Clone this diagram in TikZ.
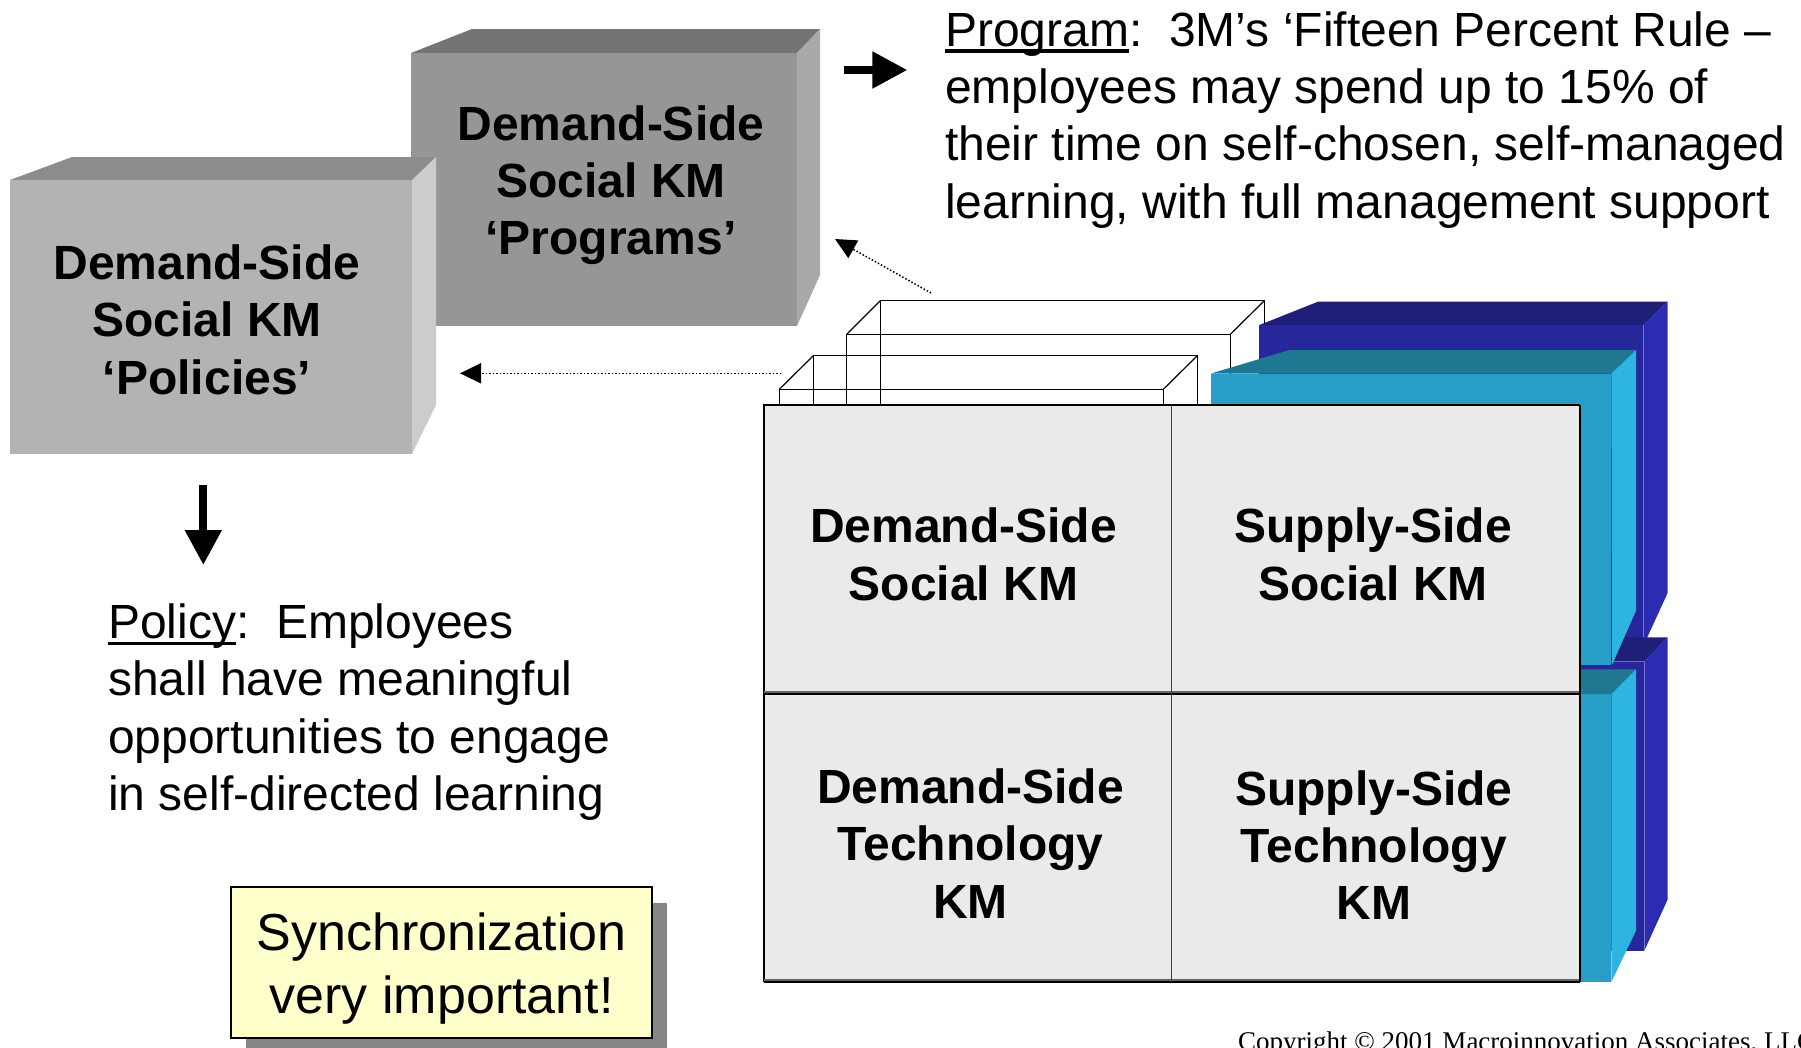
\documentclass[tikz,border=0pt]{standalone}
\usepackage{fontspec}
\setmainfont{Liberation Sans}
\newfontfamily\timesfont{Liberation Serif}
\usetikzlibrary{arrows.meta}

\definecolor{polFront}{HTML}{B3B3B3}
\definecolor{polTop}{HTML}{8C8C8C}
\definecolor{polSide}{HTML}{CCCCCC}
\definecolor{proFront}{HTML}{969696}
\definecolor{proTop}{HTML}{747474}
\definecolor{proSide}{HTML}{A9A9A9}
\definecolor{dbFront}{HTML}{27279B}
\definecolor{dbTop}{HTML}{1F1F77}
\definecolor{dbSide}{HTML}{2C2CB2}
\definecolor{cyFront}{HTML}{279DC7}
\definecolor{cyTop}{HTML}{1F7892}
\definecolor{cySide}{HTML}{2DB4E1}
\definecolor{cellFill}{HTML}{EAEAEA}
\definecolor{syncFill}{HTML}{FFFFCC}
\definecolor{syncShadow}{HTML}{868686}

\newcommand\myul[1]{\setbox0\hbox{#1}\rlap{\rule[-6.8pt]{\wd0}{3.5pt}}#1}
\newcommand\mytab[2]{\begin{tabular}[t]{@{}#1@{}}#2\end{tabular}}

\tikzset{
  boxtxt/.style={font=\fontsize{48}{57.4}\selectfont\bfseries, anchor=base, inner sep=0pt},
  bodytxt/.style={font=\fontsize{48}{57.4}\selectfont, anchor=base west, inner sep=0pt},
  wire/.style={draw=black, line width=1.2pt},
  cell/.style={draw=black, line width=1.2pt, fill=cellFill, minimum width=407.8pt, minimum height=288.3pt, inner sep=0pt, outer sep=0pt},
  dotarrow/.style={dotted, line width=1.5pt, -{Triangle[length=21pt,width=20pt]}},
  bigarrow/.style={line width=8pt, -{Triangle[length=35pt,width=35pt]}},
}

\begin{document}
\begin{tikzpicture}[x=1pt,y=-1pt]
\useasboundingbox (0,0) rectangle (1801,1047);
\fill[white] (0,0) rectangle (1801,1047);

% ---- Programs box (back)
\fill[proTop] (411,53) -- (472,29) -- (820,29) -- (797,53) -- cycle;
\fill[proSide] (797,53) -- (820,29) -- (820,275) -- (797,326) -- cycle;
\fill[proFront] (411,53) rectangle (797,326);
\node[boxtxt] (progBox) at (611,140) {\mytab{c}{Demand-Side\\Social KM\\‘Programs’}};

% ---- Policies box (front)
\fill[polTop] (10,180) -- (72,157) -- (436,157) -- (412,180) -- cycle;
\fill[polSide] (412,180) -- (436,157) -- (436,405) -- (412,454) -- cycle;
\fill[polFront] (10,180) rectangle (412,454);
\node[boxtxt] (polBox) at (207,279.3) {\mytab{c}{Demand-Side\\Social KM\\‘Policies’}};

% ---- wire-frame boxes
\draw[wire] (846.7,405) -- (846.7,334.3) -- (1230.3,334.3) -- (1230.3,405);
\draw[wire] (880.3,405) -- (880.3,300.7) -- (1264.3,300.7) -- (1264.3,405);
\draw[wire] (846.7,334.3) -- (880.3,300.7);
\draw[wire] (1230.3,334.3) -- (1264.3,300.7);
\draw[wire] (779.3,405) -- (779.3,389.3) -- (1163.3,389.3) -- (1163.3,405);
\draw[wire] (813.3,405) -- (813.3,355.7) -- (1197.3,355.7) -- (1197.3,405);
\draw[wire] (779.3,389.3) -- (813.3,355.7);
\draw[wire] (1163.3,389.3) -- (1197.3,355.7);

% ---- dark blue boxes
\fill[dbFront] (1259.4,325) rectangle (1643.3,646);
\fill[dbTop] (1259.4,325) -- (1318,301.7) -- (1667.7,301.7) -- (1643.3,325) -- cycle;
\fill[dbSide] (1643.3,325) -- (1667.7,301.7) -- (1667.7,592.7) -- (1643.3,646) -- cycle;
\fill[dbFront] (1259.4,661.7) rectangle (1644.3,950.7);
\fill[dbTop] (1259.4,661.7) -- (1318,637.3) -- (1667.7,637.3) -- (1644.3,661.7) -- cycle;
\fill[dbSide] (1644.3,661.7) -- (1667.7,637.3) -- (1667.7,899.3) -- (1644.3,950.7) -- cycle;

% ---- cyan boxes
\fill[cyFront] (1211,373.5) rectangle (1611.3,665);
\fill[cyTop] (1211,373.5) -- (1289.5,350) -- (1636,350) -- (1611.3,373.5) -- cycle;
\fill[cySide] (1611.3,373.5) -- (1636,350) -- (1636,610.7) -- (1612,665) -- cycle;
\fill[cyFront] (1211,694) rectangle (1611.3,982);
\fill[cyTop] (1211,694) -- (1289.5,669.3) -- (1636,669.3) -- (1611.3,694) -- cycle;
\fill[cySide] (1611.3,694) -- (1636,669.3) -- (1636,930.7) -- (1611.3,982) -- cycle;

% ---- grid
\node[cell, anchor=north west] (c11) at (764,405) {};
\node[cell, anchor=north west] (c12) at (1171.8,405) {};
\node[cell, anchor=north west] (c21) at (764,693.3) {};
\node[cell, anchor=north west] (c22) at (1171.8,693.3) {};
\draw[line width=2pt, black!60] (764,691.5) -- (1580,691.5);
\draw[line width=2pt] (764,693.8) -- (1580,693.8);
\draw[line width=2pt, black!60] (764,979.5) -- (1580,979.5);
\draw[line width=2pt] (764,981.8) -- (1580,981.8);
\draw[line width=1.6pt] (1580,405) -- (1580,982);
\draw[line width=1pt, black!75] (1171.8,405) -- (1171.8,982);

\node[boxtxt] (t11) at (963.5,542.7) {\mytab{c}{Demand-Side\\Social KM}};
\node[boxtxt] (t12) at (1373,542.7) {\mytab{c}{Supply-Side\\Social KM}};
\node[boxtxt] (t21) at (970.6,803.3) {\mytab{c}{Demand-Side\\Technology\\KM}};
\node[boxtxt] (t22) at (1373.8,805) {\mytab{c}{Supply-Side\\Technology\\KM}};

% ---- dotted arrows
\coordinate (dotA1) at (781,373.3);
\coordinate (dotA2) at (460,373.3);
\draw[dotarrow] (dotA1) -- (dotA2);
\coordinate (dotB1) at (931,293);
\coordinate (dotB2) at (835,239);
\draw[dotarrow] (dotB1) -- (dotB2);

% ---- solid arrows
\coordinate (rA1) at (844,70);
\coordinate (rA2) at (907.4,70);
\draw[bigarrow] (rA1) -- (rA2);
\coordinate (dA1) at (203.3,485);
\coordinate (dA2) at (203.3,565);
\draw[bigarrow] (dA1) -- (dA2);

% ---- texts
\node[bodytxt] (progTxt) at (945,46) {\mytab{l}{\myul{Program}:\ \ 3M’s ‘Fifteen Percent Rule –\\employees may spend up to 15\% of\\their time on self-chosen, self-managed\\learning, with full management support}};
\node[bodytxt] (polTxt) at (108,638.5) {\mytab{l}{\myul{Policy}:\ \ Employees\\shall have meaningful\\opportunities to engage\\in self-directed learning}};

% ---- synchronization box
\fill[syncShadow] (246,902.7) rectangle (667.4,1050);
\node[draw=black, line width=2pt, fill=syncFill, minimum width=421.4pt, minimum height=150.4pt, inner sep=0pt] (sync) at (441.7,962.5) {};
\node[font=\fontsize{52}{63}\selectfont, anchor=base, inner sep=0pt] (syncTxt) at (441.7,950) {\mytab{c}{Synchronization\\very important!}};

% ---- copyright
\node[font=\timesfont\fontsize{27}{30}\selectfont, anchor=base west, inner sep=0pt] (copyTxt) at (1238,1050) {Copyright © 2001 Macroinnovation Associates, LLC};
\end{tikzpicture}
\end{document}
